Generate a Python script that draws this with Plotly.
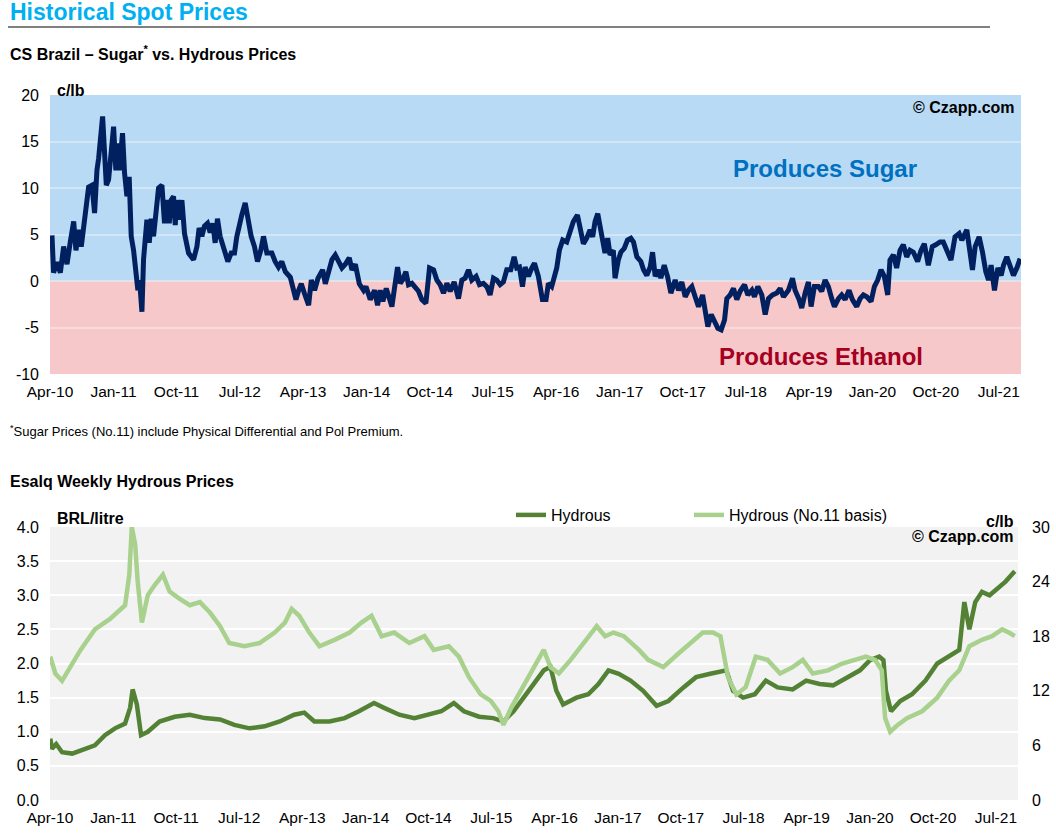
import pandas as pd
import plotly.graph_objects as go

# ---------------- data (dates as decimal years) ----------------
sugar_year = [
    2010.270, 2010.289, 2010.329, 2010.369, 2010.408, 2010.448, 2010.487, 2010.527, 2010.554, 2010.586,
    2010.617, 2010.645, 2010.665, 2010.704, 2010.744, 2010.775, 2010.803, 2010.823, 2010.870, 2010.894,
    2010.914, 2010.941, 2010.969, 2011.001, 2011.028, 2011.052, 2011.068, 2011.107, 2011.131, 2011.159,
    2011.186, 2011.210, 2011.238, 2011.258, 2011.289, 2011.309, 2011.337, 2011.356, 2011.376, 2011.396,
    2011.424, 2011.447, 2011.475, 2011.503, 2011.534, 2011.574, 2011.605, 2011.633, 2011.661, 2011.684,
    2011.712, 2011.732, 2011.752, 2011.779, 2011.811, 2011.842, 2011.890, 2011.949, 2011.989, 2012.016,
    2012.048, 2012.079, 2012.115, 2012.147, 2012.178, 2012.206, 2012.233, 2012.265, 2012.305, 2012.356,
    2012.396, 2012.435, 2012.463, 2012.494, 2012.522, 2012.562, 2012.593, 2012.633, 2012.672, 2012.708,
    2012.747, 2012.779, 2012.819, 2012.878, 2012.917, 2012.957, 2012.996, 2013.036, 2013.095, 2013.134,
    2013.162, 2013.194, 2013.225, 2013.265, 2013.312, 2013.344, 2013.383, 2013.423, 2013.478, 2013.510,
    2013.557, 2013.589, 2013.628, 2013.668, 2013.707, 2013.747, 2013.794, 2013.826, 2013.866, 2013.913,
    2013.964, 2013.992, 2014.043, 2014.095,
    2014.130, 2014.162, 2014.193, 2014.233, 2014.260, 2014.300, 2014.327, 2014.367, 2014.399, 2014.426,
    2014.466, 2014.497, 2014.537, 2014.576, 2014.616, 2014.655, 2014.703, 2014.746, 2014.794, 2014.833,
    2014.873, 2014.912, 2014.952, 2014.991, 2015.039, 2015.090, 2015.130, 2015.169, 2015.209, 2015.248,
    2015.299, 2015.339, 2015.386, 2015.426, 2015.465, 2015.505, 2015.544, 2015.584, 2015.623, 2015.663,
    2015.710, 2015.750, 2015.781, 2015.813, 2015.849, 2015.880, 2015.920, 2015.959, 2015.991, 2016.038,
    2016.086, 2016.129, 2016.157, 2016.196, 2016.228, 2016.256, 2016.287, 2016.327, 2016.374, 2016.414,
    2016.453, 2016.501, 2016.532, 2016.572, 2016.611, 2016.651, 2016.682, 2016.710, 2016.742, 2016.769,
    2016.801, 2016.828, 2016.860, 2016.888, 2016.927, 2016.947, 2016.986, 2017.014, 2017.054, 2017.093,
    2017.133, 2017.164, 2017.204, 2017.251, 2017.283, 2017.322, 2017.362, 2017.390, 2017.421, 2017.461,
    2017.488, 2017.528, 2017.567, 2017.607, 2017.658, 2017.698, 2017.737, 2017.777, 2017.816, 2017.856,
    2017.895, 2017.935,
    2017.983, 2018.015, 2018.046, 2018.086, 2018.125, 2018.165, 2018.204, 2018.244, 2018.271, 2018.311,
    2018.350, 2018.390, 2018.429, 2018.481, 2018.520, 2018.568, 2018.599, 2018.639, 2018.686, 2018.726,
    2018.765, 2018.813, 2018.864, 2018.904, 2018.943, 2019.002, 2019.050, 2019.081, 2019.129, 2019.160,
    2019.200, 2019.239, 2019.271, 2019.310, 2019.358, 2019.397, 2019.437, 2019.476, 2019.516, 2019.548,
    2019.595, 2019.634, 2019.674, 2019.721, 2019.761, 2019.812, 2019.852, 2019.891, 2019.931, 2019.982,
    2020.022, 2020.061, 2020.101, 2020.140, 2020.180, 2020.207, 2020.247, 2020.286, 2020.326, 2020.365,
    2020.405, 2020.444, 2020.484, 2020.535, 2020.575, 2020.614, 2020.662, 2020.709, 2020.749, 2020.800,
    2020.839, 2020.879, 2020.930, 2020.978, 2021.025, 2021.057, 2021.116, 2021.144, 2021.183, 2021.215,
    2021.262, 2021.302, 2021.341, 2021.373, 2021.404, 2021.444, 2021.484, 2021.523, 2021.551, 2021.590,
    2021.630, 2021.669, 2021.709, 2021.748,
]
sugar_value = [
    4.9, 0.9, 2.0, 0.9, 3.7, 1.8, 4.2, 6.4, 3.3, 5.5,
    3.7, 5.5, 6.9, 10.1, 10.3, 7.3, 11.9, 13.2, 17.7, 12.3,
    10.3, 10.9, 14.1, 16.6, 11.9, 14.8, 11.9, 15.9, 11.6, 9.1,
    11.2, 4.8, 3.3, 1.2, -1.0, 0.1, -3.3, 2.3, 5.5, 6.6,
    4.1, 6.7, 4.8, 6.9, 10.0, 10.3, 6.2, 8.7, 6.2, 8.7,
    9.1, 6.0, 8.7, 6.6, 8.7, 5.1, 3.0, 2.3, 3.7, 5.7,
    4.8, 5.9, 6.2, 5.2, 6.2, 4.1, 6.7, 4.8, 3.7, 2.1,
    3.0, 3.0, 4.8, 6.2, 7.1, 8.4, 6.9, 4.8, 3.7, 2.1,
    3.3, 4.8, 3.0, 3.0, 2.1, 1.5, 2.1, 1.0, 0.4, -1.2,
    -2.0, -1.0, -0.3, -1.4, -2.6, 0.1, -1.0, 0.3, 1.2, -0.3,
    1.0, 2.3, 2.8, 2.1, 1.4, 1.8, 2.5, 1.2, 1.8, -0.3,
    -1.0, -0.6, -2.0, -1.0,
    -2.6, -1.0, -2.2, -0.8, -1.5, -2.75, -1.0, 1.5, -0.25, 0.1,
    1.0, -0.4, -0.25, -0.6, -1.1, -2.0, -2.4, 1.4, 1.2, 0.1,
    -0.4, -1.3, -0.25, -1.1, -0.1, -1.9, 0.1, 0.3, 1.2, 0.1,
    0.5, -0.4, -0.25, -0.6, -1.5, 0.3, 0.1, -0.4, -0.1, 1.2,
    1.2, 2.6, 1.4, 1.5, -0.6, 1.5, 0.5, 1.4, 1.9, 0.5,
    -2.0, -2.0, -0.25, -0.6, 0.6, 1.4, 3.3, 4.4, 4.2, 5.3,
    6.4, 7.1, 5.5, 4.0, 4.6, 5.5, 4.75, 6.4, 7.25, 5.8,
    4.4, 3.0, 4.6, 2.8, 3.3, 0.3, 2.25, 3.1, 3.5, 4.4,
    4.6, 4.2, 2.6, 2.1, 1.2, 0.6, 1.5, 3.1, 0.5, 1.2,
    0.3, 1.7, 0.5, -1.3, 0.1, -1.0, -0.1, -1.7, -1.0, -0.6,
    -1.7, -2.75,
    -1.5, -3.1, -4.9, -3.6, -4.4, -5.1, -5.25, -4.2, -1.9, -1.5,
    -0.8, -2.0, -1.1, -0.4, -1.5, -1.0, -1.7, -0.6, -1.5, -3.6,
    -1.9, -1.5, -1.3, -0.8, -1.7, -1.0, 0.3, -1.0, -2.0, -2.9,
    -1.3, -0.1, -2.75, -0.6, -0.6, -1.1, 0.1, -0.6, -1.9, -2.75,
    -1.9, -1.5, -2.0, -1.0, -2.0, -2.75, -1.9, -1.5, -1.7, -2.2,
    -0.6, 0.1, 1.2, 0.5, -1.5, 2.25, 2.8, 1.4, 3.3, 3.9,
    2.6, 3.3, 3.1, 2.1, 3.3, 4.0, 1.7, 3.7, 3.9, 4.2,
    4.2, 3.3, 2.25, 4.75, 5.1, 4.4, 5.5, 3.7, 1.2, 3.7,
    4.75, 3.1, 1.0, 0.1, 1.7, -1.0, 1.4, 0.6, 1.7, 2.6,
    1.7, 0.6, 1.4, 2.4,
]

hydrous_year = [
    2010.25, 2010.27, 2010.32, 2010.39, 2010.51, 2010.66, 2010.78, 2010.90, 2011.02, 2011.14,
    2011.20, 2011.23, 2011.28, 2011.33, 2011.41, 2011.55, 2011.73, 2011.91, 2012.09, 2012.27,
    2012.44, 2012.62, 2012.80, 2012.98, 2013.15, 2013.27, 2013.39, 2013.57, 2013.75, 2013.92,
    2014.10, 2014.22, 2014.40, 2014.58, 2014.75, 2014.90, 2015.05, 2015.17, 2015.35, 2015.52,
    2015.64, 2015.76, 2015.88, 2016.00, 2016.12, 2016.20, 2016.27, 2016.35, 2016.51, 2016.65,
    2016.77, 2016.89, 2017.01, 2017.15, 2017.30, 2017.46, 2017.60, 2017.78, 2017.93, 2018.10,
    2018.29, 2018.37, 2018.49, 2018.63, 2018.76, 2018.90, 2019.08, 2019.24, 2019.40, 2019.56,
    2019.73, 2019.88, 2020.00, 2020.11, 2020.16, 2020.19, 2020.25, 2020.36, 2020.50, 2020.66,
    2020.80, 2020.94, 2021.06, 2021.12, 2021.18, 2021.25, 2021.33, 2021.42, 2021.51, 2021.61,
    2021.72,
]
hydrous_brl = [
    0.90, 0.75, 0.82, 0.70, 0.68, 0.75, 0.80, 0.95, 1.05, 1.12,
    1.35, 1.62, 1.40, 0.95, 1.00, 1.15, 1.22, 1.25, 1.20, 1.18,
    1.10, 1.05, 1.08, 1.15, 1.25, 1.28, 1.15, 1.15, 1.20, 1.30,
    1.42, 1.35, 1.25, 1.20, 1.25, 1.30, 1.42, 1.30, 1.22, 1.20,
    1.15, 1.30, 1.50, 1.70, 1.90, 1.95, 1.60, 1.40, 1.50, 1.55,
    1.70, 1.90, 1.85, 1.75, 1.60, 1.38, 1.45, 1.65, 1.80, 1.85,
    1.90, 1.60, 1.50, 1.55, 1.75, 1.65, 1.62, 1.75, 1.70, 1.68,
    1.80, 1.90, 2.05, 2.10, 2.05, 1.60, 1.30, 1.45, 1.55, 1.75,
    2.00, 2.10, 2.20, 2.90, 2.50, 2.90, 3.05, 3.00, 3.10, 3.20,
    3.35,
]

basis_year = [
    2010.25, 2010.31, 2010.39, 2010.49, 2010.61, 2010.78, 2010.96, 2011.14, 2011.19, 2011.22,
    2011.26, 2011.29, 2011.34, 2011.41, 2011.49, 2011.59, 2011.67, 2011.79, 2011.91, 2012.03,
    2012.15, 2012.27, 2012.38, 2012.56, 2012.74, 2012.92, 2013.04, 2013.12, 2013.21, 2013.33,
    2013.45, 2013.63, 2013.81, 2013.95, 2014.07, 2014.19, 2014.34, 2014.52, 2014.70, 2014.81,
    2014.99, 2015.11, 2015.23, 2015.37, 2015.49, 2015.58, 2015.64, 2015.73, 2015.85, 2015.96,
    2016.12, 2016.20, 2016.30, 2016.44, 2016.59, 2016.75, 2016.85, 2016.95, 2017.07, 2017.25,
    2017.36, 2017.54, 2017.72, 2017.90, 2018.01, 2018.13, 2018.22, 2018.31, 2018.41, 2018.52,
    2018.64, 2018.78, 2018.93, 2019.08, 2019.20, 2019.32, 2019.50, 2019.67, 2019.83, 2019.95,
    2020.06, 2020.14, 2020.18, 2020.24, 2020.33, 2020.44, 2020.62, 2020.80, 2020.94, 2021.06,
    2021.18, 2021.33, 2021.45, 2021.57, 2021.65, 2021.72,
]
basis_clb = [
    15.75, 13.9, 13.1, 14.6, 16.5, 18.75, 19.9, 21.4, 24.75, 30.0,
    28.1, 24.0, 19.5, 22.5, 23.6, 24.75, 22.9, 22.1, 21.4, 21.75,
    20.6, 19.1, 17.25, 16.9, 17.25, 18.4, 19.5, 21.0, 20.25, 18.4,
    16.9, 17.6, 18.4, 19.5, 20.25, 18.0, 18.4, 17.25, 18.0, 16.5,
    16.9, 15.75, 13.5, 11.6, 10.9, 9.75, 8.25, 10.1, 12.0, 13.9,
    16.5, 14.6, 13.9, 15.4, 17.25, 19.1, 18.0, 18.4, 18.0, 16.5,
    15.4, 14.6, 16.1, 17.6, 18.4, 18.4, 18.0, 13.5, 11.6, 12.4,
    15.75, 15.4, 13.9, 14.6, 15.4, 13.9, 14.25, 15.0, 15.4, 15.75,
    15.4, 14.25, 9.0, 7.5, 8.25, 9.0, 9.75, 11.25, 13.1, 14.25,
    16.9, 17.6, 18.0, 18.75, 18.4, 18.0,
]

tick_labels = ["Apr-10", "Jan-11", "Oct-11", "Jul-12", "Apr-13", "Jan-14", "Oct-14", "Jul-15",
               "Apr-16", "Jan-17", "Oct-17", "Jul-18", "Apr-19", "Jan-20", "Oct-20", "Jul-21"]
top_y_ticks = [-10, -5, 0, 5, 10, 15, 20]
top_y_labels = ["-10", "-5", "0", "5", "10", "15", "20"]
axis_start = "2010-04-01"
axis_end = "2021-10-05"


def to_dates(years):
    out = []
    for y in years:
        yr = int(y)
        out.append(pd.Timestamp(year=yr, month=1, day=1) + pd.Timedelta(days=(y - yr) * 365.25))
    return out


tick_dates = pd.date_range(axis_start, periods=len(tick_labels), freq="9MS")

# ---------------- figure ----------------
W, H = 1056, 837
FONT = "Arial, 'Liberation Sans', sans-serif"


def px(x):
    return x / W


def py(y):
    return 1 - y / H


fig = go.Figure()

fig.add_trace(go.Scatter(x=to_dates(sugar_year), y=sugar_value, mode="lines",
                         line=dict(color="#002060", width=5), showlegend=False,
                         name="Sugar vs. Hydrous", xaxis="x", yaxis="y"))
fig.add_trace(go.Scatter(x=to_dates(hydrous_year), y=hydrous_brl, mode="lines",
                         line=dict(color="#548235", width=4.5), name="Hydrous",
                         xaxis="x2", yaxis="y2", legend="legend"))
fig.add_trace(go.Scatter(x=to_dates(basis_year), y=basis_clb, mode="lines",
                         line=dict(color="#A9D18E", width=4.5), name="Hydrous (No.11 basis)",
                         xaxis="x2", yaxis="y3", legend="legend2"))

xcommon = dict(type="date", range=[axis_start, axis_end], tickvals=list(tick_dates),
               ticktext=tick_labels, showgrid=False, zeroline=False, showline=False,
               ticks="", tickfont=dict(size=15.5, color="#000000"), ticklabelstandoff=6,
               automargin=False)

legend_common = dict(orientation="h", xanchor="left", yanchor="middle",
                     bgcolor="rgba(0,0,0,0)", font=dict(size=16), borderwidth=0)

fig.update_layout(
    width=W, height=H, margin=dict(l=0, r=0, t=0, b=0, pad=0, autoexpand=False),
    paper_bgcolor="white", plot_bgcolor="#F2F2F2",
    font=dict(family=FONT, color="#000000"),
    xaxis=dict(domain=[px(50), px(1021)], anchor="y", **xcommon),
    yaxis=dict(domain=[py(374), py(95)], range=[-10, 20], tickvals=top_y_ticks,
               ticktext=top_y_labels,
               gridcolor="rgba(255,255,255,0.35)", gridwidth=2, zeroline=False,
               showline=False, ticks="", tickfont=dict(size=16), ticklabelstandoff=10,
               automargin=False),
    xaxis2=dict(domain=[px(50), px(1018)], anchor="y2", **xcommon),
    yaxis2=dict(domain=[py(800), py(527)], range=[0, 4], dtick=0.5, tickformat=".1f",
                gridcolor="#FFFFFF", gridwidth=2, zeroline=False, showline=False, ticks="",
                tickfont=dict(size=16), ticklabelstandoff=10, anchor="x2", automargin=False),
    yaxis3=dict(range=[0, 30], dtick=6, overlaying="y2", side="right", anchor="x2",
                showgrid=False, zeroline=False, showline=False, ticks="",
                tickfont=dict(size=16), ticklabelstandoff=13, automargin=False),
    legend=dict(x=px(511), y=py(515), **legend_common),
    legend2=dict(x=px(689), y=py(515), **legend_common),
    showlegend=True,
)

# background bands of the top chart
fig.add_shape(type="rect", xref="x domain", yref="y", x0=0, x1=1, y0=0, y1=20,
              fillcolor="#B8DAF4", line=dict(width=0), layer="below")
fig.add_shape(type="rect", xref="x domain", yref="y", x0=0, x1=1, y0=-10, y1=0,
              fillcolor="#F6C8CA", line=dict(width=0), layer="below")
# title rule
fig.add_shape(type="line", xref="paper", yref="paper", x0=px(8), x1=px(990), y0=py(27), y1=py(27),
              line=dict(color="#000000", width=1))


def ann(text, x, y, size, xanchor="left", color="#000000", bold=False):
    t = f"<b>{text}</b>" if bold else text
    fig.add_annotation(text=t, x=px(x), y=py(y), xref="paper", yref="paper", showarrow=False,
                       xanchor=xanchor, yanchor="middle", font=dict(size=size, color=color, family=FONT))


ann("Historical Spot Prices", 8, 12, 23, color="#00B0F0", bold=True)
ann("CS Brazil – Sugar<sup>*</sup> vs. Hydrous Prices", 8, 53, 16, bold=True)
ann("c/lb", 55, 91, 16, bold=True)
ann("© Czapp.com", 1017, 107, 16, xanchor="right", bold=True)
ann("Produces Sugar", 825, 168, 24, xanchor="center", color="#0070C0", bold=True)
ann("Produces Ethanol", 821, 357, 24, xanchor="center", color="#A50021", bold=True)
ann("<sup>*</sup>Sugar Prices (No.11) include Physical Differential and Pol Premium.", 8, 431, 13)
ann("Esalq Weekly Hydrous Prices", 8, 481, 16, bold=True)
ann("BRL/litre", 55, 518, 16, bold=True)
ann("c/lb", 1016, 521, 16, xanchor="right", bold=True)
ann("© Czapp.com", 1016, 536, 16, xanchor="right", bold=True)

# remove the page's default body margin so the figure fills the window exactly
fig.write_html("out.html", config={"displayModeBar": False},
               post_script="document.body.style.margin='0px';")
